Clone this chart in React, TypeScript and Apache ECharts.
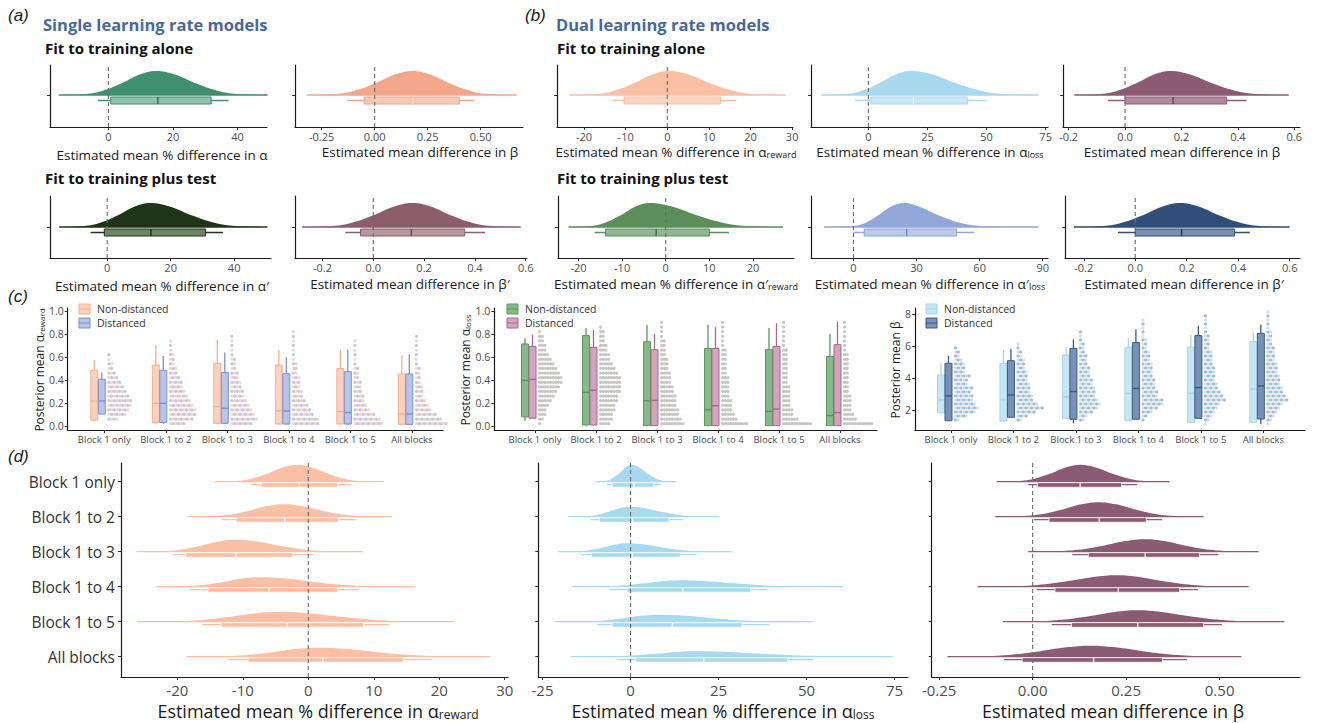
import React, { useEffect, useRef } from "react";
import * as echarts from "echarts";

const SANS = "'Open Sans', 'Noto Sans', 'DejaVu Sans', sans-serif";

// ---------------- categories ----------------
const BLOCKS = ["Block 1 only", "Block 1 to 2", "Block 1 to 3", "Block 1 to 4", "Block 1 to 5", "All blocks"];

// relative density level at each of the read x-positions of a density curve
const DENSITY_LEVELS = [0, 0.03, 0.15, 0.5, 0.85, 1, 0.85, 0.5, 0.15, 0.03, 0];

// ---------------- (a) single learning rate models ----------------
const A_ALPHA_DENSITY = [-15.4, -8.8, -2.5, 4.3, 9.7, 14.8, 20.6, 26.8, 34.6, 41.7, 49.3];
const A_ALPHA_BOX = [0.7, 15.3, 31.8];
const A_ALPHA_WHISKER = [-3.3, 37.2];
const A_BETA_DENSITY = [-0.32, -0.21, -0.107, 0.006, 0.096, 0.18, 0.262, 0.35, 0.461, 0.562, 0.67];
const A_BETA_BOX = [-0.05, 0.18, 0.4];
const A_BETA_WHISKER = [-0.13, 0.47];
const A_ALPHA_P_DENSITY = [-15.1, -8.8, -2.9, 3.6, 8.7, 13.5, 19.7, 26.3, 34.7, 42.4, 50.5];
const A_ALPHA_P_BOX = [-0.9, 13.8, 31];
const A_ALPHA_P_WHISKER = [-5.2, 36.5];
const A_BETA_P_DENSITY = [-0.28, -0.184, -0.095, 0.004, 0.082, 0.155, 0.226, 0.302, 0.399, 0.487, 0.58];
const A_BETA_P_BOX = [-0.05, 0.15, 0.36];
const A_BETA_P_WHISKER = [-0.11, 0.44];

// ---------------- (b) dual learning rate models ----------------
const B_REWARD_DENSITY = [-23.6, -18.3, -13.4, -7.9, -3.6, 0.4, 5.1, 10.1, 16.5, 22.2, 28.4];
const B_REWARD_BOX = [-10.4, 0.3, 12.8];
const B_REWARD_WHISKER = [-13.2, 16.6];
const B_LOSS_DENSITY = [-20, -11.6, -3.8, 4.8, 11.6, 18, 27.1, 36.7, 49, 60.1, 72];
const B_LOSS_BOX = [1, 19, 42];
const B_LOSS_WHISKER = [-5.6, 50];
const B_BETA_DENSITY = [-0.18, -0.105, -0.035, 0.042, 0.103, 0.16, 0.231, 0.306, 0.401, 0.488, 0.58];
const B_BETA_BOX = [0.0, 0.17, 0.36];
const B_BETA_WHISKER = [-0.06, 0.43];
const B_REWARD_P_DENSITY = [-22.3, -18.2, -14.4, -10.2, -6.9, -3.8, 1.4, 6.9, 13.8, 20.1, 26.9];
const B_REWARD_P_BOX = [-13.8, -2.2, 10];
const B_REWARD_P_WHISKER = [-16.3, 14.5];
const B_LOSS_P_DENSITY = [-14, -2, 5, 12, 18, 24, 31, 40, 52, 64, 88];
const B_LOSS_P_BOX = [5.1, 25.3, 49];
const B_LOSS_P_WHISKER = [0, 57.4];
const B_BETA_P_DENSITY = [-0.238, -0.147, -0.062, 0.032, 0.106, 0.175, 0.246, 0.322, 0.419, 0.507, 0.6];
const B_BETA_P_BOX = [0.0, 0.18, 0.386];
const B_BETA_P_WHISKER = [-0.067, 0.445];

// ---------------- (c) posterior means per block ----------------
// box rows: [lower whisker, q1, median, q3, upper whisker]
const C_REWARD_ND = [
  [0.04, 0.05, 0.217, 0.484, 0.574],
  [0.02, 0.03, 0.197, 0.53, 0.704],
  [0.015, 0.023, 0.168, 0.545, 0.748],
  [0.012, 0.017, 0.133, 0.53, 0.661],
  [0.012, 0.017, 0.125, 0.5, 0.661],
  [0.01, 0.014, 0.104, 0.452, 0.617],
];
const C_REWARD_D = [
  [0.1, 0.104, 0.217, 0.406, 0.464],
  [0.02, 0.03, 0.197, 0.484, 0.609],
  [0.015, 0.023, 0.154, 0.464, 0.638],
  [0.012, 0.017, 0.13, 0.455, 0.597],
  [0.012, 0.017, 0.116, 0.472, 0.661],
  [0.01, 0.014, 0.104, 0.452, 0.623],
];
// dot counts per bin (bins of 0.04 from 0)
const C_REWARD_DOTS = [
  [0, 4, 7, 8, 9, 9, 8, 7, 6, 5, 4, 3, 2, 2, 1, 1],
  [6, 9, 10, 10, 9, 8, 7, 6, 5, 5, 4, 3, 3, 2, 2, 2, 1, 1, 1],
  [8, 10, 9, 8, 7, 6, 5, 5, 4, 4, 3, 3, 2, 2, 2, 1, 1, 1, 1, 1],
  [10, 10, 8, 7, 6, 5, 4, 4, 3, 3, 3, 2, 2, 2, 1, 1, 1, 1, 1, 1, 1],
  [11, 10, 8, 6, 5, 4, 4, 3, 3, 3, 2, 2, 2, 1, 1, 1, 1, 1, 1],
  [12, 10, 8, 6, 5, 4, 3, 3, 3, 2, 2, 2, 2, 1, 1, 1, 1, 1, 1, 1],
];
const C_LOSS_ND = [
  [0.044, 0.079, 0.396, 0.713, 0.762],
  [0.005, 0.009, 0.293, 0.786, 0.853],
  [0.003, 0.003, 0.22, 0.733, 0.88],
  [0.003, 0.003, 0.141, 0.674, 0.883],
  [0.003, 0.003, 0.126, 0.663, 0.853],
  [0.003, 0.003, 0.091, 0.604, 0.8],
];
const C_LOSS_D = [
  [0.067, 0.067, 0.405, 0.692, 0.792],
  [0.005, 0.009, 0.311, 0.683, 0.836],
  [0.003, 0.003, 0.223, 0.663, 0.8],
  [0.003, 0.003, 0.176, 0.674, 0.859],
  [0.003, 0.003, 0.147, 0.692, 0.894],
  [0.003, 0.003, 0.117, 0.707, 0.909],
];
const C_LOSS_DOTS = [
  [1, 2, 3, 3, 4, 5, 6, 7, 8, 9, 9, 8, 7, 6, 5, 4, 3, 3, 2, 2, 1],
  [4, 5, 5, 6, 6, 7, 7, 8, 8, 8, 8, 7, 6, 5, 4, 4, 3, 3, 2, 2, 2, 1],
  [9, 8, 7, 7, 6, 6, 6, 5, 5, 4, 4, 4, 3, 3, 3, 2, 2, 2, 2, 1, 1, 1, 1],
  [10, 6, 5, 4, 4, 4, 3, 3, 3, 3, 3, 2, 2, 2, 2, 2, 2, 1, 1, 1, 1, 1, 1],
  [11, 6, 4, 4, 3, 3, 3, 3, 3, 2, 2, 2, 2, 2, 2, 2, 2, 1, 1, 1, 1, 1, 1],
  [11, 5, 4, 3, 3, 3, 3, 2, 2, 2, 2, 2, 2, 2, 2, 2, 1, 1, 1, 1, 1, 1, 1],
];
const C_BETA_ND = [
  [1.83, 1.83, 2.63, 4.19, 4.92],
  [1.31, 1.31, 2.63, 4.92, 5.75],
  [1.48, 1.48, 2.83, 5.44, 5.9],
  [1.33, 1.33, 3.04, 5.92, 6.48],
  [1.21, 1.21, 3.04, 5.92, 6.69],
  [1.21, 1.21, 3.31, 6.27, 6.85],
];
const C_BETA_D = [
  [1.33, 1.33, 2.88, 4.92, 5.38],
  [1.54, 1.54, 2.94, 5.08, 5.81],
  [1.17, 1.42, 3.15, 5.85, 6.42],
  [1.42, 1.42, 3.35, 6.21, 7.04],
  [1.48, 1.48, 3.4, 6.65, 7.27],
  [1.13, 1.44, 3.5, 6.79, 7.35],
];
// dot counts per bin (bins of 0.25 from 1.0)
const C_BETA_DOTS = [
  [0, 2, 5, 8, 9, 8, 7, 7, 6, 7, 5, 5, 6, 4, 4, 4, 3, 2, 2, 1],
  [0, 2, 4, 7, 10, 8, 6, 6, 5, 5, 5, 4, 4, 4, 3, 3, 3, 2, 2, 1, 1],
  [0, 2, 3, 5, 7, 8, 7, 6, 6, 6, 5, 5, 4, 4, 4, 3, 3, 3, 2, 2, 2, 1, 1, 1],
  [0, 1, 2, 4, 6, 8, 8, 6, 6, 5, 5, 5, 4, 4, 4, 4, 3, 3, 3, 2, 2, 2, 1, 1, 1, 1, 1],
  [1, 2, 3, 4, 5, 6, 8, 7, 6, 5, 5, 4, 4, 4, 4, 3, 3, 3, 3, 2, 2, 2, 2, 1, 1, 1, 1, 1],
  [1, 2, 3, 4, 5, 6, 8, 7, 6, 6, 5, 5, 5, 4, 4, 4, 3, 3, 3, 3, 2, 2, 2, 2, 1, 1, 1, 1, 1],
];

// ---------------- (d) differences per block ----------------
const D_REWARD_DENSITY = [
  [-14.3, -11.6, -9.0, -6.1, -3.9, -1.8, 0.4, 2.8, 5.8, 8.6, 11.5],
  [-18.5, -15.3, -12.2, -8.9, -6.3, -3.8, -1.0, 2.0, 5.7, 9.1, 12.8],
  [-26.2, -22.9, -19.8, -16.4, -13.7, -11.2, -7.9, -4.4, 0.0, 4.0, 8.3],
  [-23.2, -19.7, -16.5, -12.9, -10.1, -7.4, -3.4, 0.8, 6.2, 11.1, 16.3],
  [-26.2, -21.4, -16.9, -11.9, -8.0, -4.3, 0.2, 4.9, 11.0, 16.4, 22.3],
  [-18.6, -14.2, -10.0, -5.5, -1.9, 1.5, 5.9, 10.6, 16.6, 22.0, 27.8],
];
const D_REWARD_BOX = [[-7.2, -1.4, 4.5], [-11, -3.6, 4.6], [-18.7, -11, -2.3], [-15.3, -6, 4.5], [-13.3, -3.2, 8.4], [-9.2, 2.2, 14.5]];
const D_REWARD_WHISKER = [[-8.7, 6.5], [-13.3, 7.2], [-20.7, 0.8], [-18.1, 7.8], [-16.2, 12.4], [-12.2, 18.9]];
const D_REWARD_PEAK = [17, 12.5, 12, 9.5, 10, 9];

const D_LOSS_DENSITY = [
  [-9.9, -7.7, -5.6, -3.2, -1.4, 0.3, 2.4, 4.7, 7.6, 10.2, 13],
  [-17.8, -13.9, -10.3, -6.3, -3.2, -0.2, 4.1, 8.6, 14.4, 19.6, 25.2],
  [-20.4, -16.2, -12.2, -7.8, -4.3, -1.1, 3.9, 9.2, 15.9, 22.1, 28.6],
  [-16.7, -9.9, -3.6, 3.3, 8.8, 14, 21.8, 30.1, 40.6, 50.1, 60.3],
  [-21.6, -15.0, -8.8, -2.0, 3.4, 8.4, 15.7, 23.5, 33.4, 42.3, 51.9],
  [-16.9, -9.0, -1.6, 6.5, 12.9, 18.9, 28.3, 38.2, 50.9, 62.3, 74.6],
];
const D_LOSS_BOX = [[-5.2, 1, 6.5], [-8.8, 0.5, 11], [-11.1, 0.5, 14.1], [-1, 14.8, 34.1], [-5.2, 11.9, 31.7], [1.5, 20.8, 44.6]];
const D_LOSS_WHISKER = [[-6.7, 8.7], [-11.3, 14.8], [-14, 18.9], [-6.2, 38.7], [-9.5, 39.3], [-4, 51.9]];
const D_LOSS_PEAK = [17, 10, 8.5, 6.5, 7, 5.5];

const D_BETA_DENSITY = [
  [-0.096, -0.047, -0.001, 0.05, 0.09, 0.127, 0.167, 0.21, 0.264, 0.313, 0.366],
  [-0.1, -0.039, 0.018, 0.08, 0.13, 0.176, 0.223, 0.274, 0.337, 0.395, 0.457],
  [-0.012, 0.057, 0.121, 0.192, 0.248, 0.301, 0.352, 0.406, 0.475, 0.537, 0.604],
  [-0.147, -0.065, 0.011, 0.096, 0.163, 0.225, 0.284, 0.347, 0.428, 0.5, 0.578],
  [-0.08, -0.001, 0.073, 0.154, 0.219, 0.279, 0.345, 0.416, 0.505, 0.586, 0.673],
  [-0.228, -0.144, -0.065, 0.021, 0.09, 0.154, 0.222, 0.294, 0.386, 0.469, 0.558],
];
const D_BETA_BOX = [[0.013, 0.127, 0.238], [0.044, 0.178, 0.304], [0.149, 0.301, 0.446], [0.06, 0.229, 0.393], [0.104, 0.281, 0.457], [-0.028, 0.163, 0.347]];
const D_BETA_WHISKER = [[-0.012, 0.279], [0.004, 0.346], [0.106, 0.497], [0.011, 0.442], [0.051, 0.506], [-0.077, 0.413]];
const D_BETA_PEAK = [17, 14.5, 12.5, 11.5, 11.5, 11];

// ---------------- layout ----------------
const TOP_ROWS = [
  { top: 65, axisY: 127, baseY: 95 },
  { top: 196, axisY: 258, baseY: 227 },
];

const TOP_PANELS = [
  { density: A_ALPHA_DENSITY, box: A_ALPHA_BOX, whisker: A_ALPHA_WHISKER, color: "#3f8f70", boxFill: "#8fc2aa", med: "#2a6e53", row: 0, left: 50, right: 267, min: -18.1, max: 49.1, ticks: [0, 20, 40], dec: 0, title: "Estimated mean % difference in α", titleX: 162, titleY: 155 },
  { density: A_BETA_DENSITY, box: A_BETA_BOX, whisker: A_BETA_WHISKER, color: "#f4a68b", boxFill: "#f8c8b6", med: "#f8d9cd", row: 0, left: 295, right: 523, min: -0.376, max: 0.7, ticks: [-0.25, 0, 0.25, 0.5], dec: 2, title: "Estimated mean difference in β", titleX: 420, titleY: 152 },
  { density: B_REWARD_DENSITY, box: B_REWARD_BOX, whisker: B_REWARD_WHISKER, color: "#fbbfa5", boxFill: "#fcd6c5", med: "#fde6dc", row: 0, left: 557, right: 793, min: -26.5, max: 30.2, ticks: [-20, -10, 0, 10, 20, 30], dec: 0, title: "Estimated mean % difference in α{sub|reward}", titleX: 676, titleY: 152 },
  { density: B_LOSS_DENSITY, box: B_LOSS_BOX, whisker: B_LOSS_WHISKER, color: "#a9d9ef", boxFill: "#c9e7f5", med: "#e3f2fa", row: 0, left: 811, right: 1048, min: -24.3, max: 76, ticks: [0, 25, 50, 75], dec: 0, title: "Estimated mean % difference in α{sub|loss}", titleX: 930, titleY: 152 },
  { density: B_BETA_DENSITY, box: B_BETA_BOX, whisker: B_BETA_WHISKER, color: "#8b5b71", boxFill: "#b0899b", med: "#6e4257", row: 0, left: 1063, right: 1300, min: -0.22, max: 0.62, ticks: [-0.2, 0, 0.2, 0.4, 0.6], dec: 1, title: "Estimated mean difference in β", titleX: 1182, titleY: 152 },
  { density: A_ALPHA_P_DENSITY, box: A_ALPHA_P_BOX, whisker: A_ALPHA_P_WHISKER, color: "#203418", boxFill: "#6f8567", med: "#1a2a13", row: 1, left: 50, right: 271, min: -18, max: 51.6, ticks: [0, 20, 40], dec: 0, title: "Estimated mean % difference in α′", titleX: 162, titleY: 286 },
  { density: A_BETA_P_DENSITY, box: A_BETA_P_BOX, whisker: A_BETA_P_WHISKER, color: "#8c5e6c", boxFill: "#b6979f", med: "#704552", row: 1, left: 295, right: 527, min: -0.308, max: 0.605, ticks: [-0.2, 0, 0.2, 0.4, 0.6], dec: 1, title: "Estimated mean difference in β′", titleX: 410, titleY: 284 },
  { density: B_REWARD_P_DENSITY, box: B_REWARD_P_BOX, whisker: B_REWARD_P_WHISKER, color: "#5b8e5b", boxFill: "#94b594", med: "#3f6f3f", row: 1, left: 558, right: 794, min: -24.7, max: 29.4, ticks: [-20, -10, 0, 10, 20], dec: 0, title: "Estimated mean % difference in α′{sub|reward}", titleX: 676, titleY: 284 },
  { density: B_LOSS_P_DENSITY, box: B_LOSS_P_BOX, whisker: B_LOSS_P_WHISKER, color: "#93a6d8", boxFill: "#bdc9ea", med: "#7489c6", row: 1, left: 811, right: 1048, min: -20.2, max: 92.5, ticks: [0, 30, 60, 90], dec: 0, title: "Estimated mean % difference in α′{sub|loss}", titleX: 930, titleY: 284 },
  { density: B_BETA_P_DENSITY, box: B_BETA_P_BOX, whisker: B_BETA_P_WHISKER, color: "#304e79", boxFill: "#7a8fad", med: "#223a5e", row: 1, left: 1065, right: 1300, min: -0.273, max: 0.64, ticks: [-0.2, 0, 0.2, 0.4, 0.6], dec: 1, title: "Estimated mean difference in β′", titleX: 1184, titleY: 284 },
];

const C_PANELS = [
  { nd: C_REWARD_ND, d: C_REWARD_D, dots: C_REWARD_DOTS, binStart: 0, binWidth: 0.04, left: 67.7, right: 443, xMin: -0.595, xMax: 5.507, yMin: -0.035, yMax: 1.026, yTicks: [0, 0.2, 0.4, 0.6, 0.8, 1.0], dec: 1,
    ndFill: "#fbd2c0", ndStroke: "#f5ae91", dFill: "#b9c4e7", dStroke: "#7b90cd", dotColors: ["#f3a98a", "#8193cf"],
    yTitle: "Posterior mean α{sub|reward}", yTitleX: 39, legendX: 79 },
  { nd: C_LOSS_ND, d: C_LOSS_D, dots: C_LOSS_DOTS, binStart: 0, binWidth: 0.04, left: 494.3, right: 877, xMin: -0.667, xMax: 5.607, yMin: -0.035, yMax: 1.026, yTicks: [0, 0.2, 0.4, 0.6, 0.8, 1.0], dec: 1,
    ndFill: "#88b98a", ndStroke: "#5a955c", dFill: "#d3a5bd", dStroke: "#a5698a", dotColors: ["#7aa67b", "#ae7b98"],
    yTitle: "Posterior mean α{sub|loss}", yTitleX: 465, legendX: 507 },
  { nd: C_BETA_ND, d: C_BETA_D, dots: C_BETA_DOTS, binStart: 1.0, binWidth: 0.25, left: 915, right: 1305, xMin: -0.576, xMax: 5.667, yMin: 0.75, yMax: 8.375, yTicks: [2, 4, 6, 8], dec: 0,
    ndFill: "#c6e6f5", ndStroke: "#a5d5eb", dFill: "#7891b6", dStroke: "#3b5986", dotColors: ["#97c7e0", "#56769f"],
    yTitle: "Posterior mean β", yTitleX: 895, legendX: 926 },
];
const C_ROW = { top: 308, axisY: 430 };

const D_PANELS = [
  { density: D_REWARD_DENSITY, box: D_REWARD_BOX, whisker: D_REWARD_WHISKER, peak: D_REWARD_PEAK, color: "#fbbfa5", left: 121, right: 508, min: -28.6, max: 30.5, ticks: [-20, -10, 0, 10, 20, 30], dec: 0, labels: true, title: "Estimated mean % difference in α{sub|reward}", titleX: 318 },
  { density: D_LOSS_DENSITY, box: D_LOSS_BOX, whisker: D_LOSS_WHISKER, peak: D_LOSS_PEAK, color: "#a9d9ef", left: 538.3, right: 908, min: -26.2, max: 78.8, ticks: [-25, 0, 25, 50, 75], dec: 0, labels: false, title: "Estimated mean % difference in α{sub|loss}", titleX: 723 },
  { density: D_BETA_DENSITY, box: D_BETA_BOX, whisker: D_BETA_WHISKER, peak: D_BETA_PEAK, color: "#8b5b71", left: 931.7, right: 1300, min: -0.27, max: 0.715, ticks: [-0.25, 0, 0.25, 0.5], dec: 2, labels: false, title: "Estimated mean difference in β", titleX: 1113 },
];
const D_ROW = { top: 463, axisY: 677, yMin: -0.58, yMax: 5.534 };

// ---------------- helpers ----------------
function fmtNum(v: number, dec: number) {
  if (Math.abs(v) < 1e-9) v = 0;
  return v.toFixed(dec);
}

function xAxisCfg(grid: number, min: number, max: number, ticks: number[], fmt: (v: number) => string, fontSize: number, margin: number) {
  return {
    type: "value", gridIndex: grid, min, max,
    axisLine: { show: true, onZero: false, lineStyle: { color: "#1a1a1a", width: 1.2 } },
    axisTick: { show: true, length: 3, customValues: ticks, lineStyle: { color: "#333", width: 1 } },
    axisLabel: { show: true, customValues: ticks, formatter: fmt, fontSize, margin, color: "#4d4d4d", fontFamily: SANS, lineHeight: fontSize },
    splitLine: { show: false },
  };
}

function yAxisCfg(grid: number, min: number, max: number, ticks: number[], fmt: ((v: number) => string) | null, fontSize: number, margin: number, color = "#4d4d4d") {
  return {
    type: "value", gridIndex: grid, min, max,
    axisLine: { show: true, onZero: false, lineStyle: { color: "#1a1a1a", width: 1.2 } },
    axisTick: { show: true, length: 3, customValues: ticks, lineStyle: { color: "#333", width: 1 } },
    axisLabel: fmt ? { show: true, customValues: ticks, formatter: fmt, fontSize, margin, color, fontFamily: SANS, lineHeight: fontSize } : { show: false },
    splitLine: { show: false },
  };
}

type HalfRow = { density: number[]; box: number[]; whisker: number[]; peak: number; base: number };
type HalfStyle = { color: string; boxFill: string; boxStroke: string; med: string; b0: number; b1: number; wy: number; tailW: number };

function halfeyeSeries(axis: number, rows: HalfRow[], st: HalfStyle) {
  return {
    type: "custom", coordinateSystem: "cartesian2d", xAxisIndex: axis, yAxisIndex: axis, silent: true, clip: false, z: 2,
    data: rows.map((r) => [r.box[1], r.base]),
    renderItem: (params: any, api: any) => {
      const r = rows[params.dataIndex];
      const by = api.coord([0, r.base])[1];
      const X = (v: number) => api.coord([v, r.base])[0];
      const n = r.density.length;
      const pts = r.density.map((x, k) => [X(x), by - DENSITY_LEVELS[k] * r.peak]);
      const xl = X(r.density[0]);
      const xr = X(r.density[n - 1]);
      const q1 = X(r.box[0]);
      const md = X(r.box[1]);
      const q3 = X(r.box[2]);
      return {
        type: "group",
        children: [
          { type: "polygon", shape: { points: pts, smooth: 0.4, smoothConstraint: [[xl, by - r.peak], [xr, by]] }, style: { fill: st.color } },
          { type: "line", shape: { x1: xl, y1: by, x2: xr, y2: by }, style: { stroke: st.color, lineWidth: st.tailW } },
          { type: "line", shape: { x1: X(r.whisker[0]), y1: by + st.wy, x2: X(r.whisker[1]), y2: by + st.wy }, style: { stroke: st.color, lineWidth: 1.3 } },
          { type: "rect", shape: { x: q1, y: by + st.b0, width: q3 - q1, height: st.b1 - st.b0 }, style: { fill: st.boxFill, stroke: st.boxStroke, lineWidth: 1 } },
          { type: "line", shape: { x1: md, y1: by + st.b0, x2: md, y2: by + st.b1 }, style: { stroke: st.med, lineWidth: 1.4 } },
        ],
      };
    },
  };
}

function zeroLineSeries(axis: number, yMin: number, yMax: number) {
  return {
    type: "custom", coordinateSystem: "cartesian2d", xAxisIndex: axis, yAxisIndex: axis, silent: true, clip: false, z: 6,
    data: [[0, yMin]],
    renderItem: (params: any, api: any) => {
      const a = api.coord([0, yMin]);
      const b = api.coord([0, yMax]);
      return { type: "line", shape: { x1: a[0], y1: a[1], x2: b[0], y2: b[1] }, style: { stroke: "#6b6b6b", lineWidth: 1.1, lineDash: [4, 3] } };
    },
  };
}

function groupBoxSeries(axis: number, boxes: number[][], offset: number, fill: string, stroke: string) {
  return {
    type: "custom", coordinateSystem: "cartesian2d", xAxisIndex: axis, yAxisIndex: axis, silent: true, clip: false, z: 4,
    data: boxes.map((b, i) => [i, b[2]]),
    renderItem: (params: any, api: any) => {
      const i = params.dataIndex;
      const b = boxes[i];
      const cx = api.coord([i, b[2]])[0] + offset;
      const Y = (v: number) => api.coord([i, v])[1];
      const w = 7;
      return {
        type: "group",
        children: [
          { type: "line", shape: { x1: cx, y1: Y(b[0]), x2: cx, y2: Y(b[1]) }, style: { stroke, lineWidth: 1.3 } },
          { type: "line", shape: { x1: cx, y1: Y(b[3]), x2: cx, y2: Y(b[4]) }, style: { stroke, lineWidth: 1.3 } },
          { type: "rect", shape: { x: cx - w / 2, y: Y(b[3]), width: w, height: Y(b[1]) - Y(b[3]) }, style: { fill, stroke, lineWidth: 1 } },
          { type: "line", shape: { x1: cx - w / 2, y1: Y(b[2]), x2: cx + w / 2, y2: Y(b[2]) }, style: { stroke, lineWidth: 1.4 } },
        ],
      };
    },
  };
}

function dotSeries(axis: number, clouds: number[][], binStart: number, binWidth: number, colors: string[], offset: number) {
  return {
    type: "custom", coordinateSystem: "cartesian2d", xAxisIndex: axis, yAxisIndex: axis, silent: true, clip: false, z: 3,
    data: clouds.map((c, i) => [i, binStart]),
    renderItem: (params: any, api: any) => {
      const i = params.dataIndex;
      const counts = clouds[i];
      const x0 = api.coord([i, binStart])[0] + offset;
      const children: any[] = [];
      counts.forEach((n, k) => {
        const y = api.coord([i, binStart + binWidth * (k + 0.5)])[1];
        for (let j = 0; j < n; j++) {
          children.push({ type: "circle", shape: { cx: x0 + 1.6 + j * 2.7, cy: y, r: 1.6 }, style: { fill: colors[(j + k) % 2], opacity: 0.5 } });
        }
      });
      return { type: "group", children };
    },
  };
}

function text(x: number, y: number, t: string, o: any = {}) {
  const fs = o.fontSize || 13.5;
  return {
    type: "text", x, y, silent: true, rotation: o.rotation || 0, z: 20,
    style: {
      text: t, fontFamily: o.fontFamily || SANS, fontSize: fs, fontWeight: o.fontWeight || "normal", fontStyle: o.fontStyle || "normal",
      fill: o.fill || "#1a1a1a", align: o.align || "center", verticalAlign: "middle", lineHeight: fs * 1.05,
      rich: { sub: { fontSize: Math.round(fs * 0.68), lineHeight: fs * 0.55, verticalAlign: "bottom", fill: o.fill || "#1a1a1a", fontFamily: SANS } },
    },
  };
}

function buildOption() {
  const grid: any[] = [];
  const xAxis: any[] = [];
  const yAxis: any[] = [];
  const series: any[] = [];
  const graphic: any[] = [];
  const addGrid = (left: number, top: number, right: number, bottom: number) => {
    grid.push({ left, top, width: right - left, height: bottom - top, containLabel: false, outerBoundsMode: "none" });
    return grid.length - 1;
  };

  // ---- panels (a) and (b)
  TOP_PANELS.forEach((p) => {
    const row = TOP_ROWS[p.row];
    const g = addGrid(p.left, row.top, p.right, row.axisY);
    const baseVal = (row.axisY - row.baseY) / (row.axisY - row.top);
    xAxis.push(xAxisCfg(g, p.min, p.max, p.ticks, (v: number) => fmtNum(v, p.dec), 11, 4));
    yAxis.push(yAxisCfg(g, 0, 1, [baseVal], null, 11, 4));
    series.push(halfeyeSeries(g, [{ density: p.density, box: p.box, whisker: p.whisker, peak: 24, base: baseVal }],
      { color: p.color, boxFill: p.boxFill, boxStroke: p.color, med: p.med, b0: 2, b1: 9, wy: 5.5, tailW: 1.5 }));
    series.push(zeroLineSeries(g, 0, 1));
    graphic.push(text(p.titleX, p.titleY, p.title, { fontSize: 13.5 }));
  });

  // ---- panel (c)
  C_PANELS.forEach((p) => {
    const g = addGrid(p.left, C_ROW.top, p.right, C_ROW.axisY);
    xAxis.push(xAxisCfg(g, p.xMin, p.xMax, [0, 1, 2, 3, 4, 5], (v: number) => BLOCKS[Math.round(v)], 9.5, 5));
    yAxis.push(yAxisCfg(g, p.yMin, p.yMax, p.yTicks, (v: number) => fmtNum(v, p.dec), 10.5, 4));
    series.push(dotSeries(g, p.dots, p.binStart, p.binWidth, p.dotColors, 3));
    series.push(groupBoxSeries(g, p.nd, -10, p.ndFill, p.ndStroke));
    series.push(groupBoxSeries(g, p.d, -2.5, p.dFill, p.dStroke));
    graphic.push(text(p.yTitleX, 370, p.yTitle, { fontSize: 12, rotation: Math.PI / 2 }));
    // legend keys
    [[p.ndFill, p.ndStroke, "Non-distanced", 309], [p.dFill, p.dStroke, "Distanced", 323]].forEach((it: any) => {
      graphic.push({ type: "rect", silent: true, z: 20, shape: { x: p.legendX, y: it[3] - 5, width: 11, height: 10 }, style: { fill: it[0], stroke: it[1], lineWidth: 1 } });
      graphic.push({ type: "line", silent: true, z: 21, shape: { x1: p.legendX, y1: it[3], x2: p.legendX + 11, y2: it[3] }, style: { stroke: it[1], lineWidth: 1 } });
      graphic.push(text(p.legendX + 18, it[3], it[2], { fontSize: 10.5, align: "left", fill: "#333" }));
    });
  });

  // ---- panel (d)
  D_PANELS.forEach((p) => {
    const g = addGrid(p.left, D_ROW.top, p.right, D_ROW.axisY);
    xAxis.push(xAxisCfg(g, p.min, p.max, p.ticks, (v: number) => fmtNum(v, p.dec), 15, 5));
    yAxis.push(yAxisCfg(g, D_ROW.yMin, D_ROW.yMax, [0, 1, 2, 3, 4, 5], p.labels ? (v: number) => BLOCKS[5 - Math.round(v)] : null, 15.5, 6, "#333"));
    const rows: HalfRow[] = p.density.map((d, i) => ({ density: d, box: p.box[i], whisker: p.whisker[i], peak: p.peak[i], base: 5 - i }));
    series.push(halfeyeSeries(g, rows, { color: p.color, boxFill: p.color, boxStroke: "rgba(255,255,255,0.7)", med: "rgba(255,255,255,0.85)", b0: 1, b1: 5.5, wy: 3, tailW: 1.3 }));
    series.push(zeroLineSeries(g, D_ROW.yMin, D_ROW.yMax));
    graphic.push(text(p.titleX, 711, p.title, { fontSize: 18 }));
  });

  // ---- headings
  const italic = { fontSize: 17, fontStyle: "italic", align: "left", fontFamily: "'Liberation Sans', sans-serif" };
  graphic.push(text(8, 15, "(a)", italic));
  graphic.push(text(525, 15, "(b)", italic));
  graphic.push(text(8, 296, "(c)", italic));
  graphic.push(text(8, 456, "(d)", italic));
  graphic.push(text(43, 24, "Single learning rate models", { fontSize: 16.5, fontWeight: "bold", align: "left", fill: "#46699b" }));
  graphic.push(text(556, 24, "Dual learning rate models", { fontSize: 16.5, fontWeight: "bold", align: "left", fill: "#46699b" }));
  graphic.push(text(45, 48, "Fit to training alone", { fontSize: 15, fontWeight: "bold", align: "left", fill: "#111" }));
  graphic.push(text(557, 48, "Fit to training alone", { fontSize: 15, fontWeight: "bold", align: "left", fill: "#111" }));
  graphic.push(text(45, 178, "Fit to training plus test", { fontSize: 15, fontWeight: "bold", align: "left", fill: "#111" }));
  graphic.push(text(557, 178, "Fit to training plus test", { fontSize: 15, fontWeight: "bold", align: "left", fill: "#111" }));

  return {
    animation: false,
    backgroundColor: "#ffffff",
    textStyle: { fontFamily: SANS },
    grid, xAxis, yAxis, series, graphic,
  };
}

export default function App() {
  const ref = useRef<HTMLDivElement>(null);
  useEffect(() => {
    if (!ref.current) return;
    const chart = echarts.init(ref.current, null, { renderer: "svg" });
    chart.setOption(buildOption() as any);
    return () => chart.dispose();
  }, []);
  return <div ref={ref} style={{ position: "absolute", left: 0, top: 0, width: 1318, height: 723, background: "#fff" }} />;
}
